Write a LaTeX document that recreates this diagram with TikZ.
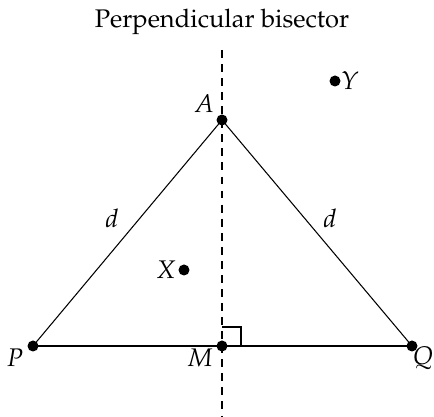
\documentclass[tikz,border=0pt]{standalone}
\usepackage[T1]{fontenc}
\usepackage{mathpazo}
\usetikzlibrary{positioning}

\begin{document}
\begin{tikzpicture}[
        font=\fontsize{14.5}{17}\selectfont,
        dot/.style={circle, fill=black, inner sep=0pt, minimum size=0.22cm},
        lbl/.style={inner sep=1pt},
        side/.style={line width=0.6pt},
        base/.style={line width=1.2pt},
        bisect/.style={line width=0.6pt, dash pattern=on 4.5pt off 3.5pt}
    ]
        \useasboundingbox (0,0) rectangle (8.68,8.34);

        \node (title) at (4.44, 7.90) {Perpendicular bisector};
        \coordinate (top) at (4.44, 7.34);
        \coordinate (bot) at (4.44, 0.00);

        \node[dot] (A) at (4.44, 5.94) {};
        \node[dot] (P) at (0.66, 1.42) {};
        \node[dot] (M) at (4.44, 1.42) {};
        \node[dot] (Q) at (8.24, 1.42) {};
        \node[dot] (X) at (3.68, 2.94) {};
        \node[dot] (Y) at (6.70, 6.72) {};

        \node[lbl] (lA) at (4.08, 6.26) {$A$};
        \node[lbl] (lP) at (0.30, 1.18) {$P$};
        \node[lbl] (lM) at (4.00, 1.18) {$M$};
        \node[lbl] (lQ) at (8.46, 1.18) {$Q$};
        \node[lbl] (lX) at (3.32, 2.94) {$X$};
        \node[lbl] (lY) at (7.00, 6.72) {$Y$};
        \node[lbl] (dl) at (2.24, 3.98) {$d$};
        \node[lbl] (dr) at (6.60, 3.98) {$d$};

        \draw[bisect] (top) -- (bot);
        \draw[side] (P.center) -- (A.center) -- (Q.center);
        \draw[base] (P.center) -- (Q.center);
        \draw[side] ([yshift=0.38cm]M.center) -- ++(0.38,0) -- ++(0,-0.38);
    \end{tikzpicture}
\end{document}
